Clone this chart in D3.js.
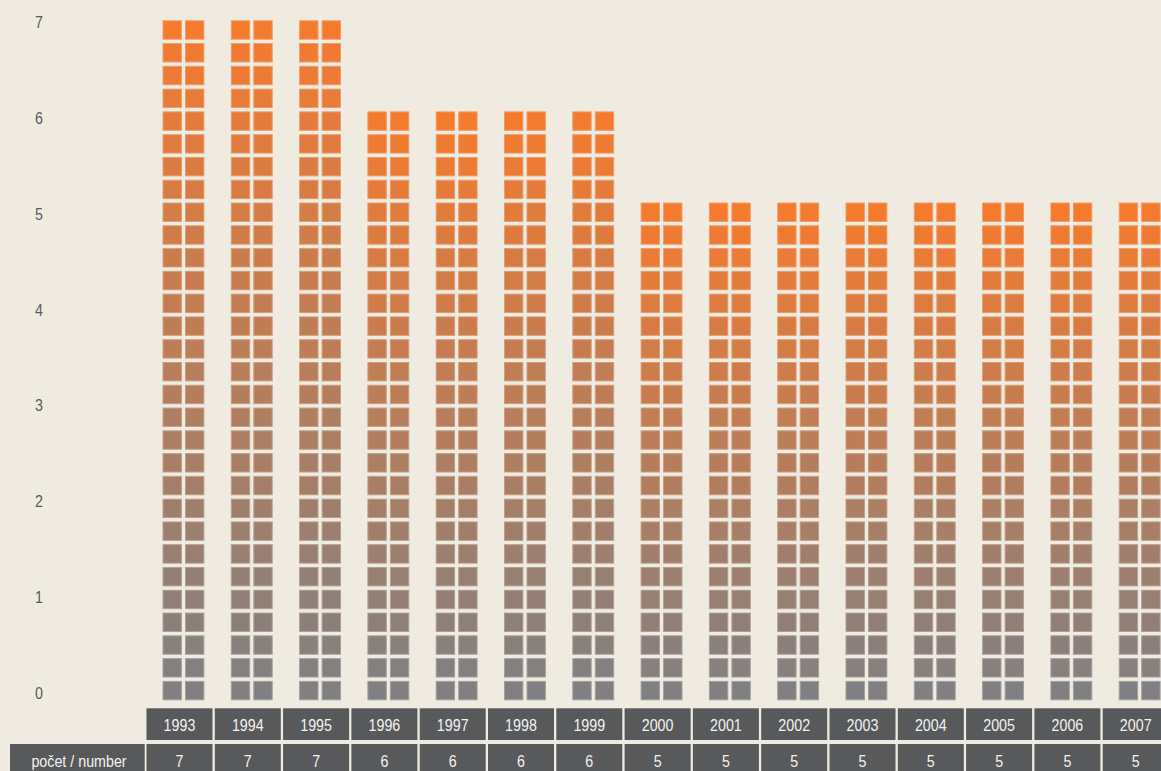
<!DOCTYPE html>
<html>
<head>
<meta charset="utf-8">
<script src="https://cdn.jsdelivr.net/npm/d3@7"></script>
<style>
  html, body { margin: 0; padding: 0; background: #f0ebe1; overflow: hidden; }
  svg { display: block; }
</style>
</head>
<body>
<div id="chart"></div>
<script>
// data
const years = ["1993", "1994", "1995", "1996", "1997", "1998", "1999", "2000",
               "2001", "2002", "2003", "2004", "2005", "2006", "2007"];
const counts = [7, 7, 7, 6, 6, 6, 6, 5, 5, 5, 5, 5, 5, 5, 5];
const yTicks = [0, 1, 2, 3, 4, 5, 6, 7];
const rowLabel = "počet / number";

const width = 1161, height = 771;
const font = "'Liberation Sans', Arial, sans-serif";
const squeeze = 0.84; // condensed look: narrow the glyphs horizontally

const svg = d3.select("#chart")
    .append("svg")
    .attr("width", width)
    .attr("height", height);

svg.append("rect")
    .attr("width", width)
    .attr("height", height)
    .attr("fill", "#f0ebe1");

// helper for condensed centred text
function label(sel, cx, cy, color) {
    return sel.append("text")
        .attr("transform", (d, i) => "translate(" + cx(d, i) + "," + cy(d, i) + ") scale(" + squeeze + ",1)")
        .attr("dy", "0.35em")
        .attr("text-anchor", "middle")
        .attr("fill", color)
        .style("font-family", font)
        .style("font-size", "17px");
}

// Scales
const x = d3.scaleBand()
    .domain(years)
    .range([146.5, 146.5 + 15 * 68.3 - 2.3])
    .paddingInner(2.3 / 68.3)
    .paddingOuter(0);

const y = d3.scaleLinear()
    .domain([0, 7])
    .range([693, 22]);

// Y axis labels (no line, just numbers)
label(svg.append("g").selectAll("text").data(yTicks).enter(),
      () => 39, d => y(d), "#5a5a5a")
    .text(d => d);

// pictogram bars: stacks of 2 squares per row, filled from the base up to the value
const base = 700.3, pitch = 22.78, sq = 19.4, sqGap = 3.1, barOffset = 16;
const colTop = "#f47a2e", colBottom = "#808083";

const bars = svg.append("g")
    .selectAll("g")
    .data(years.map((yr, i) => ({ year: yr, value: counts[i] })))
    .enter()
    .append("g")
    .attr("transform", d => "translate(" + (x(d.year) + barOffset) + ",0)");

bars.each(function(d) {
    const nRows = Math.ceil((base - y(d.value)) / pitch - 0.02);
    const color = d3.interpolateRgb(colBottom, colTop);
    const cells = [];
    for (let r = 0; r < nRows; r++) {
        for (let c = 0; c < 2; c++) cells.push({ r: r, c: c, t: nRows > 1 ? r / (nRows - 1) : 1 });
    }
    d3.select(this).selectAll("rect")
        .data(cells)
        .enter()
        .append("rect")
        .attr("x", k => k.c * (sq + sqGap) + 0.5)
        .attr("y", k => base - (k.r + 1) * pitch + (pitch - sq) + 0.5)
        .attr("width", sq - 1)
        .attr("height", sq - 1)
        .attr("fill", k => color(k.t))
        .attr("stroke", k => d3.interpolateRgb(color(k.t), "#f0ebe1")(0.3))
        .attr("stroke-width", 1);
});

// table: year row
const row1Y = 708.3, row1H = 31.7, row2Y = 744, row2H = 32;
const cellFill = "#58595b";

const yearCells = svg.append("g").selectAll("g")
    .data(years)
    .enter()
    .append("g");

yearCells.append("rect")
    .attr("x", d => x(d))
    .attr("y", row1Y)
    .attr("width", x.bandwidth())
    .attr("height", row1H)
    .attr("fill", cellFill);

label(yearCells, d => x(d) + x.bandwidth() / 2, () => row1Y + row1H / 2 + 1, "#f2f2f2")
    .text(d => d);

// table: count row
svg.append("rect")
    .attr("x", 10)
    .attr("y", row2Y)
    .attr("width", 134.7)
    .attr("height", row2H)
    .attr("fill", cellFill);

label(svg.append("g").datum(rowLabel), () => 79, () => row2Y + 17, "#f2f2f2")
    .text(rowLabel);

const countCells = svg.append("g").selectAll("g")
    .data(years.map((yr, i) => ({ year: yr, value: counts[i] })))
    .enter()
    .append("g");

countCells.append("rect")
    .attr("x", d => x(d.year))
    .attr("y", row2Y)
    .attr("width", x.bandwidth())
    .attr("height", row2H)
    .attr("fill", cellFill);

label(countCells, d => x(d.year) + x.bandwidth() / 2, () => row2Y + 17, "#f2f2f2")
    .text(d => d.value);
</script>
</body>
</html>
